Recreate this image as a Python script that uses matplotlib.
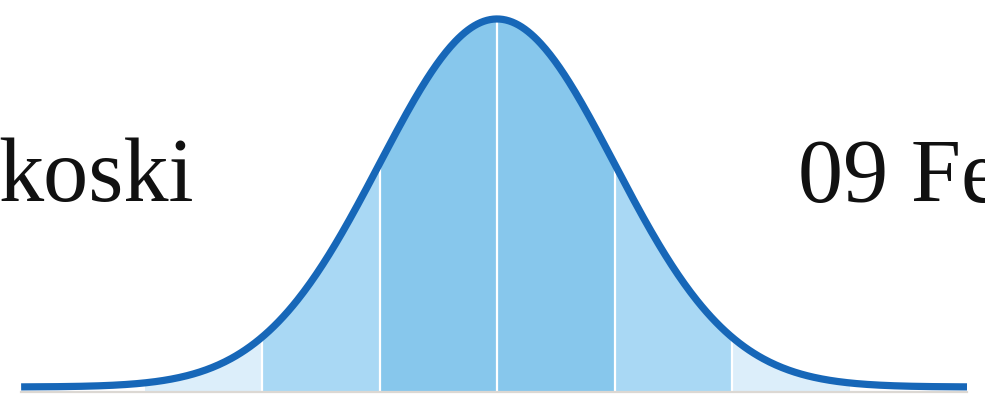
import numpy as np
import matplotlib.pyplot as plt

# curva normal (en unidades de desviación estándar)
mu = 0.0
sigma = 1.0
x_min, x_max = -4.05, 4.0

# bandas sombreadas: bordes y colores
bordes = [-3, -2, -1, 0, 1, 2, 3]
colores_banda = ['#DCEEFA', '#A9D8F4', '#87C7EC', '#87C7EC', '#A9D8F4', '#DCEEFA']

# textos recortados del encabezado
texto_izq = 'koski'
texto_der = '09 Fe'


def pdf(x):
    return np.exp(-0.5 * ((x - mu) / sigma) ** 2) / (sigma * np.sqrt(2 * np.pi))


fig = plt.figure(figsize=(9.85, 3.96), dpi=100)
ax = fig.add_axes([0, 0, 1, 1])
ax.set_xlim(-497 / 117.5, 488 / 117.5)
ax.set_ylim(-0.00976, 0.4195)
ax.axis('off')

# bandas
for i in range(len(bordes) - 1):
    xs = np.linspace(bordes[i], bordes[i + 1], 100)
    ax.fill_between(xs, -0.004, pdf(xs), color=colores_banda[i], lw=0)

# separadores blancos
for b in bordes[1:-1]:
    ax.plot([b, b], [-0.004, pdf(b)], color='white', lw=1.6)

# linea base gris
ax.plot([x_min, x_max], [-0.0054, -0.0054], color='#DCD8D3', lw=1.6)

# curva
x = np.linspace(x_min, x_max, 600)
ax.plot(x, pdf(x), color='#1767B8', lw=5.2, solid_capstyle='butt')

fig.text(-2 / 985, 1 - 201 / 396, texto_izq, fontsize=65,
         family='Liberation Serif', va='baseline', ha='left', color='#111111')
fig.text(798 / 985, 1 - 202 / 396, texto_der, fontsize=65,
         family='Liberation Serif', va='baseline', ha='left', color='#111111')

fig.savefig('out.png', dpi=100)
